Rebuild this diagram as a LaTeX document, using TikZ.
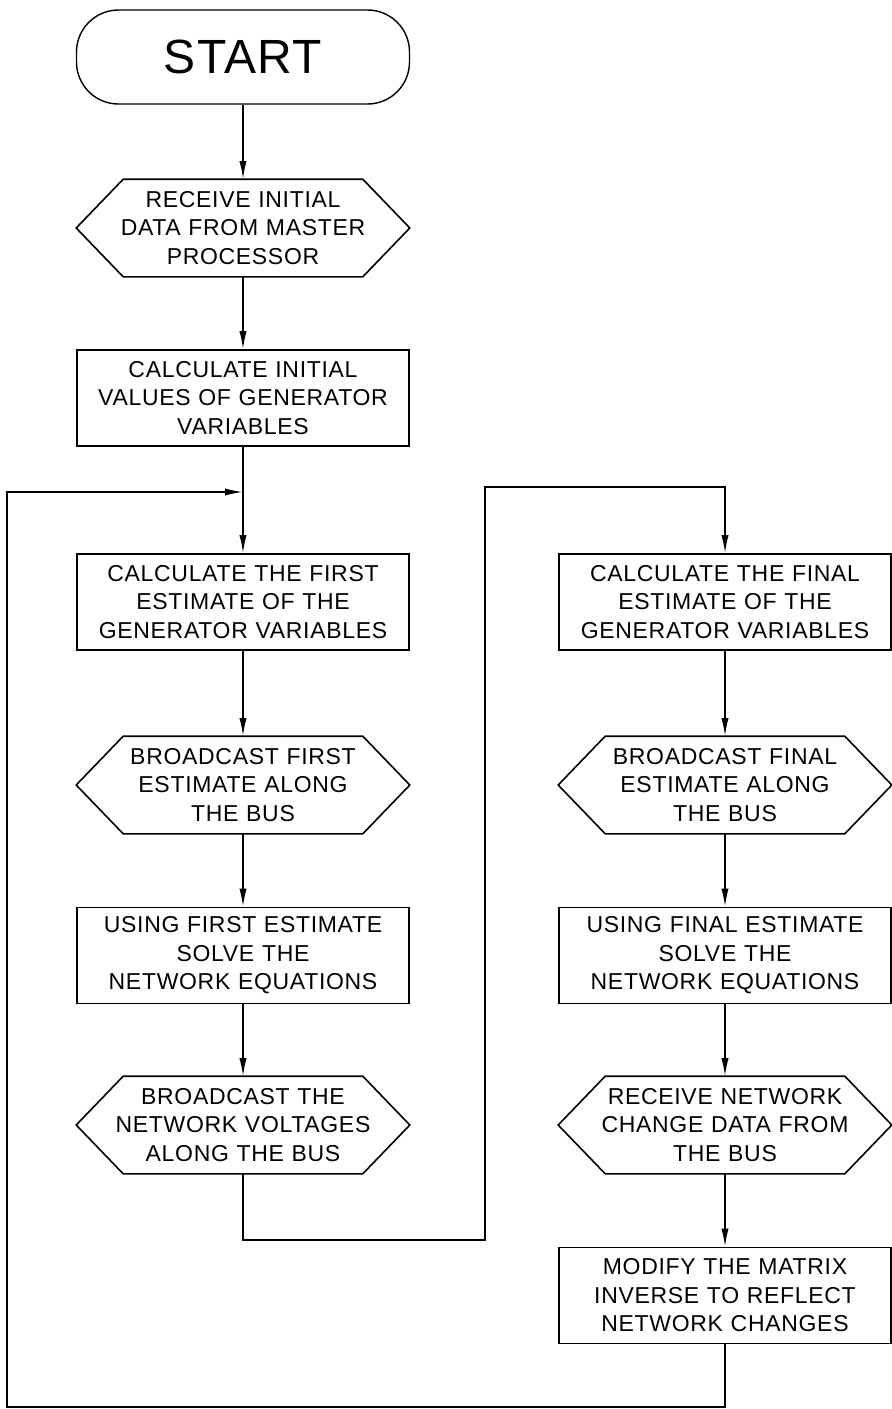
\documentclass[tikz,border=0pt]{standalone}
\usepackage{fontspec}
\setmainfont{Liberation Sans}[LetterSpace=3, WordSpace=1.9]
\usetikzlibrary{arrows.meta}
\tikzset{
	flowbox/.style={draw, line width=0.8pt, minimum width=166pt, minimum height=48pt, text width=164pt, align=center, inner sep=0pt, font=\fontsize{11.5}{14.25}\selectfont},
	hexbox/.style={flowbox, draw=none},
	flowline/.style={line width=0.8pt},
	flowarrow/.style={flowline, -{Latex[length=9pt, width=3.6pt]}}
}
\begin{document}
\begin{tikzpicture}[x=0.5pt, y=-0.5pt]
		\useasboundingbox (0,0) rectangle (891,1409);
		\node[draw, line width=0.7pt, rounded corners=21pt, minimum width=166.5pt, minimum height=47pt, font=\fontsize{24}{28}\selectfont] (start) at (243,57) {START};
		\node[hexbox] (recvinit) at (243,228) {RECEIVE INITIAL\\DATA FROM MASTER\\PROCESSOR};
		\node[flowbox] (calcinit) at (243,398) {CALCULATE INITIAL\\VALUES OF GENERATOR\\VARIABLES};
		\node[flowbox] (calcfirst) at (243,602) {CALCULATE THE FIRST\\ESTIMATE OF THE\\GENERATOR VARIABLES};
		\node[hexbox] (bcfirst) at (243,785) {BROADCAST FIRST\\ESTIMATE ALONG\\THE BUS};
		\node[flowbox] (usefirst) at (243,955.5) {USING FIRST ESTIMATE\\SOLVE THE\\NETWORK EQUATIONS};
		\node[hexbox] (bcvolt) at (243,1125) {BROADCAST THE\\NETWORK VOLTAGES\\ALONG THE BUS};
		\node[flowbox] (calcfinal) at (725,602) {CALCULATE THE FINAL\\ESTIMATE OF THE\\GENERATOR VARIABLES};
		\node[hexbox] (bcfinal) at (725,785) {BROADCAST FINAL\\ESTIMATE ALONG\\THE BUS};
		\node[flowbox] (usefinal) at (725,955.5) {USING FINAL ESTIMATE\\SOLVE THE\\NETWORK EQUATIONS};
		\node[hexbox] (recvchg) at (725,1125) {RECEIVE NETWORK\\CHANGE DATA FROM\\THE BUS};
		\node[flowbox] (modify) at (725,1295.5) {MODIFY THE MATRIX\\INVERSE TO REFLECT\\NETWORK CHANGES};
		\foreach \n in {recvinit, bcfirst, bcvolt, bcfinal, recvchg}
			\draw[flowline] ([xshift=23.5pt]\n.north west) -- ([xshift=-23.5pt]\n.north east) -- (\n.east) -- ([xshift=-23.5pt]\n.south east) -- ([xshift=23.5pt]\n.south west) -- (\n.west) -- cycle;
		\coordinate (join) at (243,492);
		\coordinate (lowturn) at (485,1240);
		\coordinate (highturn) at (485,487);
		\coordinate (loopcorner) at (7,1407);
		\draw[flowarrow] (start) -- (recvinit);
		\draw[flowarrow] (recvinit) -- (calcinit);
		\draw[flowline] (calcinit) -- (join);
		\draw[flowarrow] (join) -- (calcfirst);
		\draw[flowarrow] (calcfirst) -- (bcfirst);
		\draw[flowarrow] (bcfirst) -- (usefirst);
		\draw[flowarrow] (usefirst) -- (bcvolt);
		\draw[flowarrow] (bcvolt) |- (lowturn) -- (highturn) -| (calcfinal);
		\draw[flowarrow] (calcfinal) -- (bcfinal);
		\draw[flowarrow] (bcfinal) -- (usefinal);
		\draw[flowarrow] (usefinal) -- (recvchg);
		\draw[flowarrow] (recvchg) -- (modify);
		\draw[flowarrow] (modify) |- (loopcorner) |- (join);
	\end{tikzpicture}
\end{document}
